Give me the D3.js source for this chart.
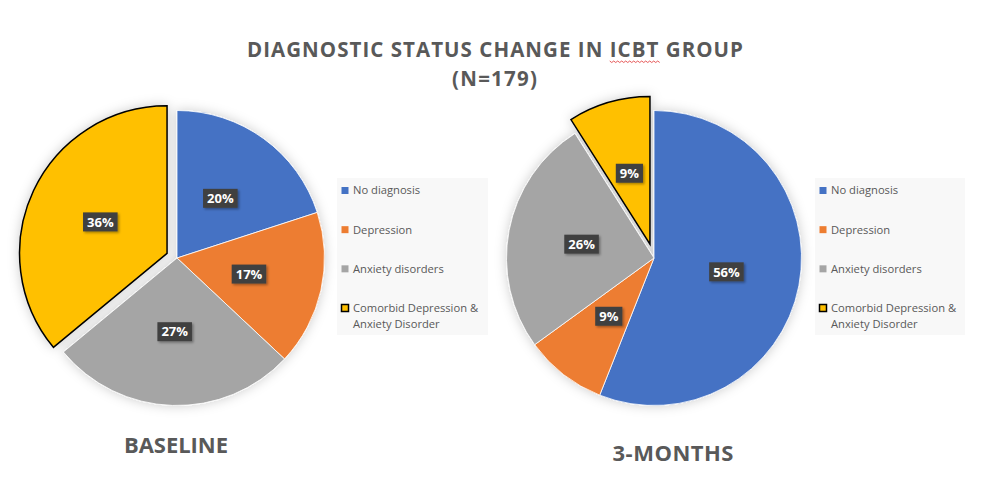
<!DOCTYPE html>
<html><head><meta charset="utf-8">
<script src="https://cdn.jsdelivr.net/npm/d3@7"></script>
<style>
html,body{margin:0;padding:0;background:#fff;}
svg{display:block;}
</style></head>
<body>
<svg id="chart" width="997" height="495"></svg>
<script>
const categories = ["No diagnosis", "Depression", "Anxiety disorders", "Comorbid Depression & Anxiety Disorder"];
const baselineValues = [20, 17, 27, 36];
const threeMonthValues = [56, 9, 26, 9];
const panelTitles = ["BASELINE", "3-MONTHS"];
const mainTitle = "DIAGNOSTIC STATUS CHANGE IN ICBT GROUP";
const subTitle = "(N=179)";
const colors = ["#4472C4", "#ED7D31", "#A5A5A5", "#FFC000"];

const svg = d3.select("#chart");
const FONT = "'Open Sans', sans-serif";
const TXT = "#595959";

const defs = svg.append("defs");
const sh = defs.append("filter").attr("id", "pieShadow").attr("x", "-20%").attr("y", "-20%").attr("width", "140%").attr("height", "140%");
sh.append("feDropShadow").attr("dx", 0).attr("dy", 0).attr("stdDeviation", 6).attr("flood-color", "#000").attr("flood-opacity", 0.2);
const lsh = defs.append("filter").attr("id", "lblShadow").attr("x", "-30%").attr("y", "-30%").attr("width", "170%").attr("height", "170%");
lsh.append("feDropShadow").attr("dx", 1.5).attr("dy", 1.5).attr("stdDeviation", 1).attr("flood-color", "#000").attr("flood-opacity", 0.35);

// set letter spacing so the text spans targetW, centred on cx
function fitText(sel, targetW, cx) {
  const n = sel.text().length;
  const w = sel.node().getComputedTextLength();
  const ls = (targetW - w) / (n - 1);
  sel.attr("letter-spacing", ls).attr("text-anchor", "start").attr("x", cx - targetW / 2);
}

// Title
const title = svg.append("text").attr("y", 57)
  .attr("font-family", FONT).attr("font-weight", 700).attr("font-size", 20.5).attr("fill", TXT)
  .text(mainTitle);
fitText(title, 496, 495);
const sub = svg.append("text").attr("y", 86)
  .attr("font-family", FONT).attr("font-weight", 700).attr("font-size", 20.5).attr("fill", TXT)
  .text(subTitle);
fitText(sub, 85, 494.5);

// red spell-check squiggle under "ICBT"
(function () {
  const node = title.node();
  const idx = mainTitle.indexOf("ICBT");
  const st = node.getStartPositionOfChar(idx).x;
  const en = node.getEndPositionOfChar(idx + 3).x;
  const y = 61;
  let p = `M${st},${y}`;
  for (let x = st, k = 0; x < en; x += 2, k++) p += ` L${x + 2},${y + (k % 2 ? 0 : 1.5)}`;
  svg.append("path").attr("d", p).attr("fill", "none").attr("stroke", "#e03030").attr("stroke-width", 0.8);
})();

function drawPanel(values, cx, cy, r, explode, legendBox, panelTitle, titlePos, titleW) {
  const pie = d3.pie().sort(null).value(d => d)(values);
  const arc = d3.arc().innerRadius(0).outerRadius(r);
  const g = svg.append("g").attr("transform", `translate(${cx},${cy})`);
  const shadowG = g.append("g").attr("filter", "url(#pieShadow)");
  const offs = pie.map((d, i) => {
    if (i !== 3) return [0, 0];
    const a = (d.startAngle + d.endAngle) / 2;
    return [Math.sin(a) * explode, -Math.cos(a) * explode];
  });
  shadowG.selectAll("path").data(pie).join("path")
    .attr("transform", (d, i) => `translate(${offs[i][0]},${offs[i][1]})`)
    .attr("d", arc)
    .attr("fill", (d, i) => colors[i])
    .attr("stroke", (d, i) => i === 3 ? "#000" : "#fff")
    .attr("stroke-width", (d, i) => i === 3 ? 1.5 : 0.8)
    .attr("stroke-linejoin", "miter");
  // data labels
  const lab = g.selectAll("g.lbl").data(pie).join("g").attr("class", "lbl")
    .attr("transform", (d, i) => {
      const c = arc.centroid(d);
      return `translate(${c[0] + offs[i][0]},${c[1] + offs[i][1]})`;
    });
  lab.each(function (d) {
    const gg = d3.select(this);
    const t = gg.append("text").attr("text-anchor", "middle").attr("dy", "0.36em")
      .attr("font-family", FONT).attr("font-weight", 700).attr("font-size", 13).attr("fill", "#fff")
      .text(d3.format(".0%")(d.data / 100));
    const w = t.node().getComputedTextLength();
    gg.insert("rect", "text").attr("x", -w / 2 - 4).attr("y", -9.5).attr("width", w + 8).attr("height", 19)
      .attr("fill", "#404040").attr("filter", "url(#lblShadow)");
  });

  // legend
  svg.append("rect").attr("x", legendBox.x).attr("y", legendBox.y).attr("width", legendBox.w).attr("height", legendBox.h)
    .attr("fill", "#f8f8f8");
  const rowY = d3.scalePoint().domain(d3.range(categories.length)).range([legendBox.y + 12.5, legendBox.y + 130]);
  categories.forEach((c, i) => {
    const y = rowY(i);
    svg.append("rect").attr("x", legendBox.x + 4.5).attr("y", y - 3.5).attr("width", 7).attr("height", 7)
      .attr("fill", colors[i]).attr("stroke", i === 3 ? "#000" : "none").attr("stroke-width", i === 3 ? 1.5 : 0);
    const t = svg.append("text").attr("x", legendBox.x + 16).attr("y", y).attr("dy", "0.35em")
      .attr("font-family", FONT).attr("font-size", 11.2).attr("fill", TXT);
    const words = c.split(" ");
    let line = [];
    let ts = t.append("tspan").attr("x", legendBox.x + 16);
    words.forEach(wd => {
      line.push(wd);
      ts.text(line.join(" "));
      if (ts.node().getComputedTextLength() > legendBox.w - 18 && line.length > 1) {
        line.pop(); ts.text(line.join(" "));
        line = [wd];
        ts = t.append("tspan").attr("x", legendBox.x + 16).attr("dy", "1.45em").text(wd);
      }
    });
  });

  const pt = svg.append("text").attr("y", titlePos[1])
    .attr("font-family", FONT).attr("font-weight", 700).attr("font-size", 22).attr("fill", TXT)
    .text(panelTitle);
  fitText(pt, titleW, titlePos[0]);
}

drawPanel(baselineValues, 177, 258, 147.5, 11, {x: 337, y: 178, w: 151, h: 157}, panelTitles[0], [176, 453], 104);
drawPanel(threeMonthValues, 654, 258, 147.5, 14.5, {x: 815, y: 178, w: 150, h: 157}, panelTitles[1], [673, 461], 121);
</script>
</body></html>
